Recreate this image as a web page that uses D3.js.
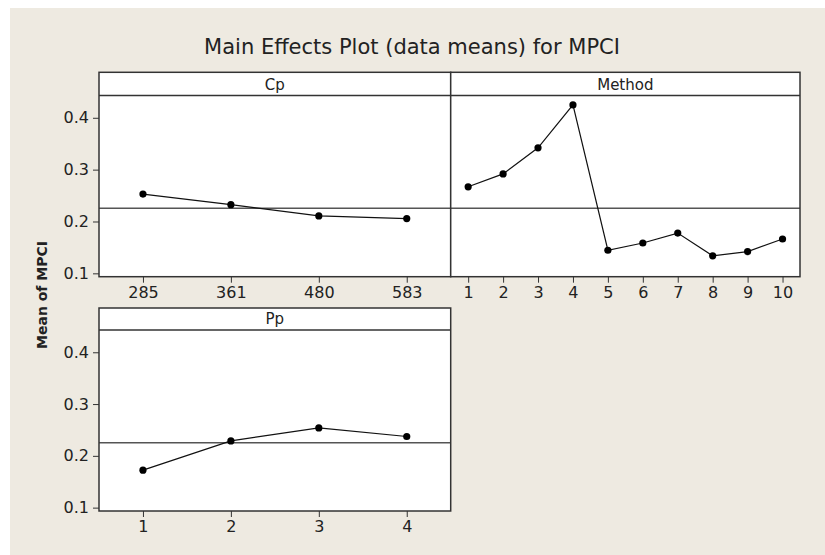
<!DOCTYPE html>
<html>
<head>
<meta charset="utf-8">
<script src="https://cdn.jsdelivr.net/npm/d3@7"></script>
<style>
  body { margin: 0; background: #fff; }
  svg { display: block; }
  text { font-family: "DejaVu Sans", sans-serif; fill: #222; }
</style>
</head>
<body>
<svg id="chart" width="825" height="555"></svg>
<script>
// data
var cpLevels = ["285", "361", "480", "583"];
var cpMeans = [0.2528, 0.2325, 0.2107, 0.2057];

var methodLevels = ["1", "2", "3", "4", "5", "6", "7", "8", "9", "10"];
var methodMeans = [0.2669, 0.2918, 0.3421, 0.4249, 0.1445, 0.1585, 0.1776, 0.1337, 0.1419, 0.1662];

var ppLevels = ["1", "2", "3", "4"];
var ppMeans = [0.1724, 0.2289, 0.2539, 0.2374];

var yTicks = [0.1, 0.2, 0.3, 0.4];
var overallMean = d3.mean(cpMeans);

var svg = d3.select("#chart");

// beige window background
svg.append("rect")
  .attr("x", 10).attr("y", 8)
  .attr("width", 815).attr("height", 547)
  .attr("fill", "#eeeae1");

svg.append("text")
  .attr("x", 412).attr("y", 54)
  .attr("text-anchor", "middle")
  .style("font-size", "21px")
  .text("Main Effects Plot (data means) for MPCI");

svg.append("text")
  .attr("transform", "translate(47,295) rotate(-90)")
  .attr("text-anchor", "middle")
  .style("font-size", "14px")
  .style("font-weight", "bold")
  .text("Mean of MPCI");

var panels = [
  { name: "Cp", levels: cpLevels, means: cpMeans, x0: 99, x1: 450.7, top: 72.3, strip: 95.5, bottom: 276.7, yAxis: true },
  { name: "Method", levels: methodLevels, means: methodMeans, x0: 450.7, x1: 800, top: 72.3, strip: 95.5, bottom: 276.7, yAxis: false },
  { name: "Pp", levels: ppLevels, means: ppMeans, x0: 99, x1: 450.7, top: 308, strip: 330, bottom: 511, yAxis: true }
];

panels.forEach(function (p) {
  var g = svg.append("g");

  var x = d3.scalePoint().domain(p.levels).range([p.x0, p.x1]).padding(0.5);
  var y = d3.scaleLinear().domain([0.0935, 0.443]).range([p.bottom, p.strip]);

  g.append("rect")
    .attr("x", p.x0).attr("y", p.top)
    .attr("width", p.x1 - p.x0).attr("height", p.bottom - p.top)
    .attr("fill", "#fff");

  // mean reference line
  g.append("line")
    .attr("x1", p.x0).attr("x2", p.x1)
    .attr("y1", y(overallMean)).attr("y2", y(overallMean))
    .attr("stroke", "#555").attr("stroke-width", 1.5);

  var pts = p.levels.map(function (d, i) { return [d, p.means[i]]; });

  g.append("path")
    .datum(pts)
    .attr("fill", "none")
    .attr("stroke", "#111")
    .attr("stroke-width", 1.2)
    .attr("d", d3.line()
      .x(function (d) { return x(d[0]); })
      .y(function (d) { return y(d[1]); }));

  g.selectAll("circle").data(pts).enter().append("circle")
    .attr("cx", function (d) { return x(d[0]); })
    .attr("cy", function (d) { return y(d[1]); })
    .attr("r", 3.6)
    .attr("fill", "#000");

  // strip + frame
  g.append("line")
    .attr("x1", p.x0).attr("x2", p.x1)
    .attr("y1", p.strip).attr("y2", p.strip)
    .attr("stroke", "#333").attr("stroke-width", 1.5);
  g.append("rect")
    .attr("x", p.x0).attr("y", p.top)
    .attr("width", p.x1 - p.x0).attr("height", p.bottom - p.top)
    .attr("fill", "none")
    .attr("stroke", "#333").attr("stroke-width", 1.5);

  g.append("text")
    .attr("x", (p.x0 + p.x1) / 2).attr("y", p.strip - 6)
    .attr("text-anchor", "middle")
    .style("font-size", "15px")
    .text(p.name);

  var xAxis = g.append("g")
    .attr("transform", "translate(0," + p.bottom + ")")
    .call(d3.axisBottom(x).tickSize(6).tickPadding(4));
  xAxis.select(".domain").remove();
  xAxis.selectAll("line").attr("stroke", "#333");
  xAxis.selectAll("text").style("font-size", "16px").attr("fill", "#222")
    .style("font-family", "DejaVu Sans, sans-serif");

  if (p.yAxis) {
    var yAxis = g.append("g")
      .attr("transform", "translate(" + p.x0 + ",0)")
      .call(d3.axisLeft(y).tickValues(yTicks).tickFormat(d3.format(".1f")).tickSize(6).tickPadding(4));
    yAxis.select(".domain").remove();
    yAxis.selectAll("line").attr("stroke", "#333");
    yAxis.selectAll("text").style("font-size", "16px").attr("fill", "#222")
      .style("font-family", "DejaVu Sans, sans-serif");
  }
});
</script>
</body>
</html>
